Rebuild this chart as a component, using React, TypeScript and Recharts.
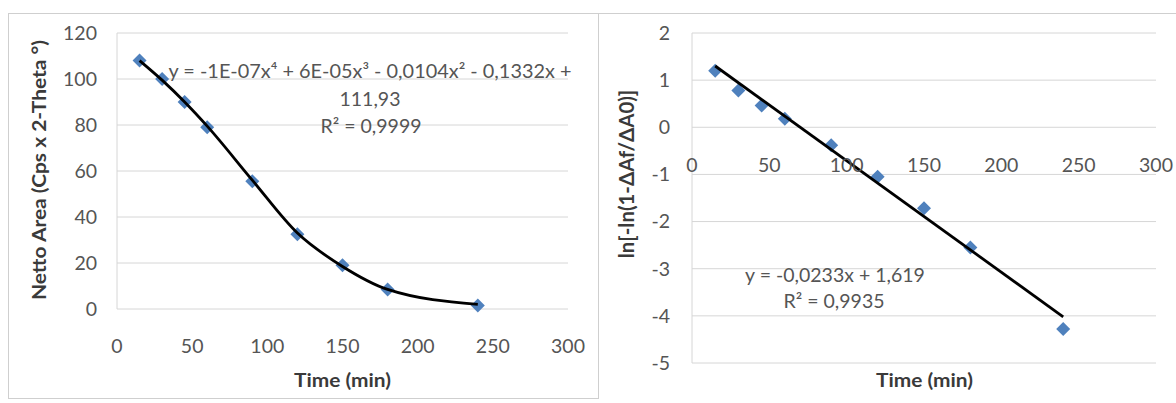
import React from 'react';
import { ComposedChart, Scatter, Line, XAxis, YAxis, CartesianGrid } from 'recharts';

// ---- data ----
const timeMin = [15, 30, 45, 60, 90, 120, 150, 180, 240];
const nettoArea = [108, 100, 90, 79, 55.5, 32.5, 19, 8.5, 1.5];
const nettoFit = [108, 99.5, 90, 79.5, 56, 33, 18.5, 8.5, 2];
const lnValues = [1.2, 0.78, 0.46, 0.18, -0.38, -1.05, -1.72, -2.55, -4.28];
const lnFitX = [15, 240];
const lnFitY = [1.3, -4.02];
const xTicks = [0, 50, 100, 150, 200, 250, 300];
const leftYTicks = [0, 20, 40, 60, 80, 100, 120];
const rightYTicks = [-5, -4, -3, -2, -1, 0, 1, 2];

const leftEquation = ['y = -1E-07x⁴ + 6E-05x³ - 0,0104x² - 0,1332x +', '111,93', 'R² = 0,9999'];
const rightEquation = ['y = -0,0233x + 1,619', 'R² = 0,9935'];
const xTitle = 'Time (min)';
const leftYTitle = 'Netto Area (Cps x 2-Theta °)';
const rightYTitle = 'ln[-ln(1-ΔAf/ΔA0)]';

const leftData = timeMin.map((t, i) => ({ x: t, y: nettoArea[i], fit: nettoFit[i] }));
const rightData = timeMin.map((t, i) => {
  const k = lnFitX.indexOf(t);
  return { x: t, y: lnValues[i], fit: k >= 0 ? lnFitY[k] : null };
});

const FONT = "Lato, 'Open Sans', 'Liberation Sans', sans-serif";
const TICK = '#555555';
const TITLE = '#3a3a3a';
const GRID = '#d6d6d6';
const MARK = '#4F81BD';

const Diamond = (props: any) => {
  const { cx, cy } = props;
  if (cx == null || cy == null) return null;
  const r = 7;
  return (
    <polygon
      points={`${cx},${cy - r} ${cx + r},${cy} ${cx},${cy + r} ${cx - r},${cy}`}
      fill={MARK}
    />
  );
};

const makeXTick = (offset: number) => (props: any) => {
  const { x, y, payload } = props;
  return (
    <text x={x} y={y + offset} textAnchor="middle" fill={TICK} fontSize={19.5} fontFamily={FONT}>
      {payload.value}
    </text>
  );
};

const yTickStyle = { fill: TICK, fontSize: 19.5, fontFamily: FONT };

export default function App() {
  return (
    <div style={{ position: 'absolute', left: 0, top: 0, width: 1176, height: 403, background: '#fff', overflow: 'hidden' }}>
      <div style={{ position: 'absolute', left: 0, top: 0 }}>
        <ComposedChart width={598} height={403} data={leftData} margin={{ top: 33, right: 30, bottom: 64, left: 57 }}>
          <CartesianGrid vertical={false} stroke={GRID} />
          <XAxis
            type="number"
            dataKey="x"
            domain={[0, 300]}
            ticks={xTicks}
            height={30}
            axisLine={false}
            tickLine={false}
            tickSize={0}
            tickMargin={0}
            tick={makeXTick(44)}
            interval={0}
          />
          <YAxis
            type="number"
            domain={[0, 120]}
            ticks={leftYTicks}
            width={60}
            axisLine={{ stroke: GRID }}
            tickLine={false}
            tickSize={0}
            tickMargin={20}
            tick={yTickStyle}
            interval={0}
          />
          <Scatter dataKey="y" shape={<Diamond />} isAnimationActive={false} />
          <Line dataKey="fit" type="monotone" stroke="#000" strokeWidth={2.8} dot={false} activeDot={false} isAnimationActive={false} zIndex={700} />
        </ComposedChart>
      </div>
      <div style={{ position: 'absolute', left: 598, top: 0 }}>
        <ComposedChart width={578} height={403} data={rightData} margin={{ top: 33, right: 20, bottom: 10, left: 34 }}>
          <CartesianGrid vertical={false} stroke={GRID} />
          <XAxis
            type="number"
            dataKey="x"
            domain={[0, 300]}
            ticks={xTicks}
            height={30}
            axisLine={false}
            tickLine={false}
            tickSize={0}
            tickMargin={0}
            tick={makeXTick(-191.5)}
            interval={0}
          />
          <YAxis
            type="number"
            domain={[-5, 2]}
            ticks={rightYTicks}
            width={60}
            axisLine={{ stroke: GRID }}
            tickLine={false}
            tickSize={0}
            tickMargin={22}
            tick={yTickStyle}
            interval={0}
          />
          <Scatter dataKey="y" shape={<Diamond />} isAnimationActive={false} />
          <Line dataKey="fit" type="linear" connectNulls stroke="#000" strokeWidth={2.8} dot={false} activeDot={false} isAnimationActive={false} zIndex={700} />
        </ComposedChart>
      </div>
      <svg width={1176} height={403} style={{ position: 'absolute', left: 0, top: 0, pointerEvents: 'none' }}>
        <rect x={8.5} y={13.5} width={590} height={385} fill="none" stroke="#cfcfcf" />
        <line x1={598.5} y1={13.5} x2={1176} y2={13.5} stroke="#cfcfcf" />
        <g fontFamily={FONT} fontWeight="bold" fontSize={19.5} fill={TITLE} textAnchor="middle">
          <text x={342.5} y={387} textLength={97} lengthAdjust="spacingAndGlyphs">{xTitle}</text>
          <text x={924.5} y={387} textLength={97} lengthAdjust="spacingAndGlyphs">{xTitle}</text>
          <text transform="translate(46,170) rotate(-90)" textLength={260} lengthAdjust="spacingAndGlyphs">{leftYTitle}</text>
          <text transform="translate(634,174) rotate(-90)" fontSize={20.4}>{rightYTitle}</text>
        </g>
        <g fontFamily={FONT} fontSize={19.5} fill={TICK} textAnchor="middle">
          <text x={370} y={78} textLength={403} lengthAdjust="spacingAndGlyphs">{leftEquation[0]}</text>
          <text x={370} y={105.5}>{leftEquation[1]}</text>
          <text x={371} y={132.5}>{leftEquation[2]}</text>
          <text x={835} y={281.5}>{rightEquation[0]}</text>
          <text x={834} y={308}>{rightEquation[1]}</text>
        </g>
      </svg>
    </div>
  );
}
